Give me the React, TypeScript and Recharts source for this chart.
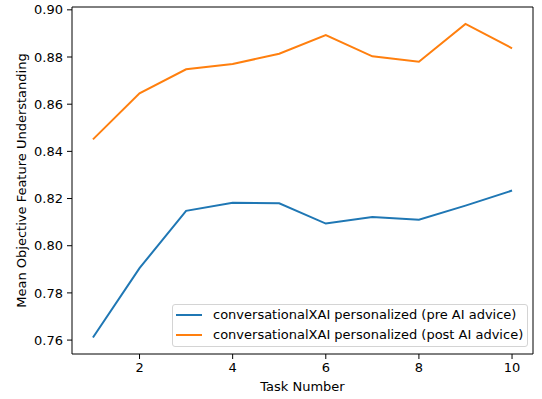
import React from "react";
import {
  LineChart,
  Line,
  XAxis,
  YAxis,
  Legend,
  ReferenceLine,
} from "recharts";

const tasks = [1, 2, 3, 4, 5, 6, 7, 8, 9, 10];
const preAdvice = [0.7611, 0.7905, 0.8148, 0.8182, 0.8180, 0.8094, 0.8122, 0.8110, 0.8170, 0.8234];
const postAdvice = [0.8451, 0.8646, 0.8748, 0.8770, 0.8814, 0.8893, 0.8803, 0.8780, 0.8940, 0.8837];
const seriesNames = [
  "conversationalXAI personalized (pre AI advice)",
  "conversationalXAI personalized (post AI advice)",
];
const xTicks = [2, 4, 6, 8, 10];
const yTicks = [0.76, 0.78, 0.8, 0.82, 0.84, 0.86, 0.88, 0.9];

const X_DOMAIN: [number, number] = [0.55, 10.45];
const Y_DOMAIN: [number, number] = [0.7541, 0.9012];

const FONT = "'DejaVu Sans', sans-serif";
const BLUE = "#1f77b4";
const ORANGE = "#ff7f0e";

const data = tasks.map((t, i) => ({
  task: t,
  pre: preAdvice[i],
  post: postAdvice[i],
}));

const tickStyle = { fill: "#000", fontSize: 13, fontFamily: FONT };

function LegendBox({ payload }: any) {
  // keep the entries in the order the series were plotted
  const items = [...(payload || [])].sort(
    (a: any, b: any) => seriesNames.indexOf(a.value) - seriesNames.indexOf(b.value)
  );
  return (
    <div
      style={{
        position: "relative",
        boxSizing: "border-box",
        width: 356,
        height: 43,
        border: "1px solid #d4d4d4",
        borderRadius: 3,
        background: "rgba(255,255,255,0.8)",
        fontFamily: FONT,
        fontSize: 13,
        color: "#000",
      }}
    >
      {items.map((p: any, i: number) => (
        <div
          key={p.value}
          style={{
            position: "absolute",
            left: 0,
            top: i * 20,
            height: 20,
            display: "flex",
            alignItems: "center",
            whiteSpace: "nowrap",
          }}
        >
          <svg width={40} height={20} style={{ display: "block" }}>
            <line x1={3} x2={29} y1={10} y2={10} stroke={p.color} strokeWidth={2} />
          </svg>
          <span style={{ lineHeight: "20px" }}>{p.value}</span>
        </div>
      ))}
    </div>
  );
}

export default function App() {
  return (
    <div style={{ position: "absolute", left: 0, top: 0, width: 542, height: 399, background: "#fff" }}>
      <LineChart
        width={542}
        height={399}
        data={data}
        margin={{ top: 7, right: 9, bottom: 0, left: 0 }}
      >
        <XAxis
          dataKey="task"
          type="number"
          domain={X_DOMAIN}
          ticks={xTicks}
          allowDataOverflow
          height={45}
          stroke="#000"
          tick={tickStyle}
          tickSize={5}
          tickMargin={4}
          label={{
            content: ({ viewBox }: any) => (
              <text
                x={viewBox.x + viewBox.width / 2}
                y={viewBox.y + 37}
                textAnchor="middle"
                fontFamily={FONT}
                fontSize={13}
                fill="#000"
              >
                Task Number
              </text>
            ),
          }}
        />
        <YAxis
          type="number"
          domain={Y_DOMAIN}
          ticks={yTicks}
          allowDataOverflow
          width={72}
          stroke="#000"
          tick={tickStyle}
          tickSize={5}
          tickMargin={4}
          tickFormatter={(v: number) => v.toFixed(2)}
          label={{
            content: ({ viewBox }: any) => {
              const cx = 25.5;
              const cy = viewBox.y + viewBox.height / 2;
              return (
                <text
                  x={cx}
                  y={cy}
                  transform={`rotate(-90, ${cx}, ${cy})`}
                  textAnchor="middle"
                  fontFamily={FONT}
                  fontSize={13}
                  fill="#000"
                >
                  Mean Objective Feature Understanding
                </text>
              );
            },
          }}
        />
        {/* closing frame on top and right */}
        <ReferenceLine y={Y_DOMAIN[1]} stroke="#000" strokeWidth={1} />
        <ReferenceLine x={X_DOMAIN[1]} stroke="#000" strokeWidth={1} />
        <Line
          dataKey="pre"
          name={seriesNames[0]}
          stroke={BLUE}
          strokeWidth={2}
          dot={false}
          isAnimationActive={false}
        />
        <Line
          dataKey="post"
          name={seriesNames[1]}
          stroke={ORANGE}
          strokeWidth={2}
          dot={false}
          isAnimationActive={false}
        />
        <Legend
          layout="vertical"
          align="center"
          verticalAlign="middle"
          content={<LegendBox />}
          wrapperStyle={{ left: 172, top: 304, width: 356, height: 43 }}
        />
      </LineChart>
    </div>
  );
}
